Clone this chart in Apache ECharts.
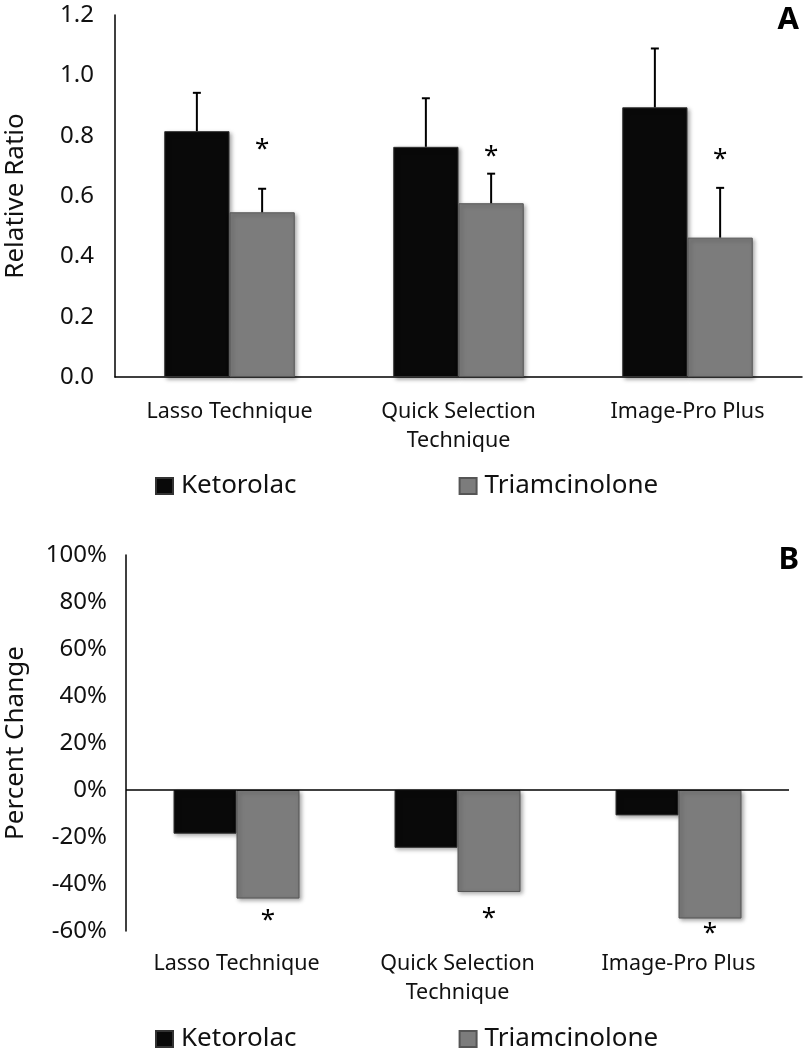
<!DOCTYPE html>
<html>
<head>
<meta charset="utf-8">
<script src="https://cdn.jsdelivr.net/npm/echarts@6/dist/echarts.min.js"></script>
<style>
html,body{margin:0;padding:0;background:#fff;overflow:hidden;}
#chart{width:804px;height:1050px;}
</style>
</head>
<body>
<div id="chart"></div>
<script>
// ---- data ----
const categories = ['Lasso Technique', 'Quick Selection\nTechnique', 'Image-Pro Plus'];
const seriesNames = ['Ketorolac', 'Triamcinolone'];
// Panel A: relative ratio
const ketorolacRatio = [0.815, 0.763, 0.894];
const ketorolacRatioErr = [0.127, 0.161, 0.195];
const triamRatio = [0.546, 0.576, 0.462];
const triamRatioErr = [0.078, 0.098, 0.165];
const starRatio = [0.77, 0.746, 0.736];
// Panel B: percent change
const ketorolacPct = [-18.6, -24.6, -10.8];
const triamPct = [-46.2, -43.4, -54.7];
const starPct = [-53.3, -52.5, -58.8];
// axis ticks
const ratioTicks = { min: 0, max: 1.2, interval: 0.2 };
const pctTicks = { min: -60, max: 100, interval: 20 };

const FONT = "'Noto Sans', sans-serif";
const CAT_GAP = 0.43;
const HALF = (1 - CAT_GAP) / 4; // offset of each bar centre from category centre (in band units)

const kStyle = {
  color: '#090909', borderColor: '#333', borderWidth: 1,
  shadowBlur: 4, shadowColor: 'rgba(0,0,0,0.35)', shadowOffsetX: 2, shadowOffsetY: 2
};
const tStyle = {
  color: '#7c7c7c', borderColor: '#555', borderWidth: 1,
  shadowBlur: 4, shadowColor: 'rgba(0,0,0,0.35)', shadowOffsetX: 2, shadowOffsetY: 2
};

function errRender(sign) {
  return function (params, api) {
    const i = api.value(0), v = api.value(1), e = api.value(2);
    const band = api.size([1, 0])[0];
    const base = api.coord([i, v]);
    const top = api.coord([i, v + e]);
    const x = base[0] + sign * band * HALF;
    const st = { stroke: '#000', lineWidth: 2 };
    return {
      type: 'group',
      children: [
        { type: 'line', shape: { x1: x, y1: base[1], x2: x, y2: top[1] }, style: st },
        { type: 'line', shape: { x1: x - 4, y1: top[1], x2: x + 4, y2: top[1] }, style: st }
      ]
    };
  };
}
function starRender(params, api) {
  const i = api.value(0), v = api.value(1);
  const band = api.size([1, 0])[0];
  const p = api.coord([i, v]);
  return {
    type: 'text',
    x: p[0] + band * HALF,
    y: p[1] + 5,
    style: { text: '*', font: "26px " + FONT, fill: '#000', align: 'center', verticalAlign: 'middle' }
  };
}

const axisLabelStyle = { fontFamily: FONT, fontSize: 24, color: '#111' };
const catLabelStyle = { fontFamily: FONT, fontSize: 21.5, color: '#111', lineHeight: 29 };

const option = {
  animation: false,
  backgroundColor: '#fff',
  title: [
    { text: 'A', right: 0, top: 0, textStyle: { fontFamily: FONT, fontWeight: 'bold', fontSize: 31, color: '#000' } },
    { text: 'B', right: 0, top: 540, textStyle: { fontFamily: FONT, fontWeight: 'bold', fontSize: 31, color: '#000' } }
  ],
  legend: [
    {
      data: seriesNames, left: 150, top: 468, itemWidth: 17, itemHeight: 16, itemGap: 162, icon: 'rect',
      textStyle: { fontFamily: FONT, fontSize: 26, color: '#111', padding: [0, 0, 0, 3] }
    },
    {
      data: seriesNames, left: 150, top: 1021, itemWidth: 17, itemHeight: 16, itemGap: 162, icon: 'rect',
      textStyle: { fontFamily: FONT, fontSize: 26, color: '#111', padding: [0, 0, 0, 3] }
    }
  ],
  grid: [
    { left: 115, right: 2, top: 15, height: 362, outerBoundsMode: 'none', containLabel: false },
    { left: 126, right: 15, top: 555, height: 376, outerBoundsMode: 'none', containLabel: false }
  ],
  xAxis: [
    {
      type: 'category', gridIndex: 0, data: categories,
      axisLine: { lineStyle: { color: '#000', width: 1.5 } }, axisTick: { show: false },
      axisLabel: Object.assign({ margin: 20, interval: 0 }, catLabelStyle)
    },
    {
      type: 'category', gridIndex: 1, data: categories,
      axisLine: { show: false, onZero: false }, axisTick: { show: false },
      axisLabel: Object.assign({ margin: 18, interval: 0 }, catLabelStyle)
    }
  ],
  yAxis: [
    {
      type: 'value', gridIndex: 0, min: ratioTicks.min, max: ratioTicks.max, interval: ratioTicks.interval,
      name: 'Relative Ratio', nameLocation: 'middle', nameGap: 86,
      nameTextStyle: { fontFamily: FONT, fontSize: 26, color: '#111' },
      axisLine: { show: true, lineStyle: { color: '#000', width: 1.5 } }, axisTick: { show: false },
      splitLine: { show: false },
      axisLabel: Object.assign({ margin: 21, formatter: v => v.toFixed(1) }, axisLabelStyle)
    },
    {
      type: 'value', gridIndex: 1, min: pctTicks.min, max: pctTicks.max, interval: pctTicks.interval,
      name: 'Percent Change', nameLocation: 'middle', nameGap: 97,
      nameTextStyle: { fontFamily: FONT, fontSize: 26, color: '#111' },
      axisLine: { show: true, lineStyle: { color: '#000', width: 1.5 } }, axisTick: { show: false },
      splitLine: { show: false },
      axisLabel: Object.assign({ margin: 19, formatter: v => v + '%' }, axisLabelStyle)
    }
  ],
  series: [
    { name: 'Ketorolac', type: 'bar', xAxisIndex: 0, yAxisIndex: 0, data: ketorolacRatio,
      barGap: '0%', barCategoryGap: (CAT_GAP * 100) + '%', itemStyle: kStyle },
    { name: 'Triamcinolone', type: 'bar', xAxisIndex: 0, yAxisIndex: 0, data: triamRatio,
      barGap: '0%', barCategoryGap: (CAT_GAP * 100) + '%', itemStyle: tStyle },
    { type: 'custom', xAxisIndex: 0, yAxisIndex: 0, renderItem: errRender(-1), z: 5,
      data: ketorolacRatio.map((v, i) => [i, v, ketorolacRatioErr[i]]) },
    { type: 'custom', xAxisIndex: 0, yAxisIndex: 0, renderItem: errRender(1), z: 5,
      data: triamRatio.map((v, i) => [i, v, triamRatioErr[i]]) },
    { type: 'custom', xAxisIndex: 0, yAxisIndex: 0, renderItem: starRender, z: 6,
      data: starRatio.map((v, i) => [i, v]) },

    { name: 'Ketorolac', type: 'bar', xAxisIndex: 1, yAxisIndex: 1, data: ketorolacPct,
      barGap: '0%', barCategoryGap: (CAT_GAP * 100) + '%', itemStyle: kStyle,
      markLine: { silent: true, symbol: 'none', label: { show: false },
        lineStyle: { color: '#000', width: 1.5, type: 'solid' }, data: [{ yAxis: 0 }] } },
    { name: 'Triamcinolone', type: 'bar', xAxisIndex: 1, yAxisIndex: 1, data: triamPct,
      barGap: '0%', barCategoryGap: (CAT_GAP * 100) + '%', itemStyle: tStyle },
    { type: 'custom', xAxisIndex: 1, yAxisIndex: 1, renderItem: starRender, z: 6,
      data: starPct.map((v, i) => [i, v]) }
  ]
};

const chart = echarts.init(document.getElementById('chart'), null, { renderer: 'canvas' });
chart.setOption(option);
</script>
</body>
</html>
